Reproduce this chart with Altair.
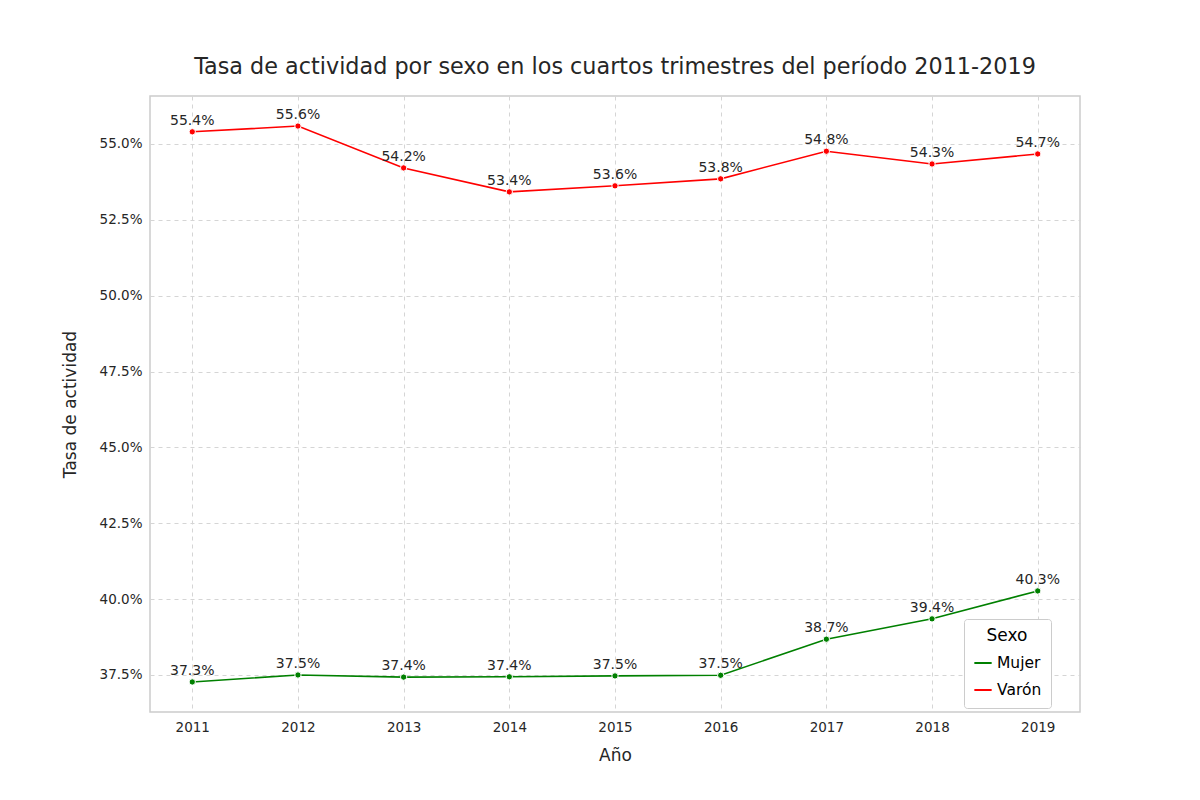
import pandas as pd
import altair as alt

years = [2011, 2012, 2013, 2014, 2015, 2016, 2017, 2018, 2019]
mujer = [37.27, 37.50, 37.43, 37.44, 37.47, 37.49, 38.68, 39.35, 40.27]
varon = [55.40, 55.59, 54.21, 53.42, 53.62, 53.85, 54.76, 54.34, 54.67]

rows = []
for y, m, v in zip(years, mujer, varon):
    rows.append({"Año": y, "Sexo": "Mujer", "tasa": m / 100})
    rows.append({"Año": y, "Sexo": "Varón", "tasa": v / 100})
df = pd.DataFrame(rows)

color = alt.Color("Sexo:N", scale=alt.Scale(domain=["Mujer", "Varón"], range=["green", "red"]),
                  legend=alt.Legend(title="Sexo", orient="none", legendX=814, legendY=523,
                                    strokeColor="#cccccc", fillColor="white", padding=9,
                                    cornerRadius=3, titleFontSize=17, labelFontSize=15.5,
                                    titleFontWeight="normal", symbolType="stroke",
                                    symbolStrokeWidth=2, symbolSize=300, rowPadding=8,
                                    titleAnchor="middle", titlePadding=8))
x = alt.X("Año:Q", title="Año", scale=alt.Scale(domain=[2010.6, 2019.4], nice=False, zero=False),
          axis=alt.Axis(values=years, format="d", titleFontSize=17, titlePadding=14,
                        titleFontWeight="normal", labelFontSize=13.5, labelPadding=8, ticks=False,
                        gridDash=[4, 4], gridColor="#d5d5d5", domain=False))
y = alt.Y("tasa:Q", title="Tasa de actividad",
          scale=alt.Scale(domain=[0.3628, 0.5658], nice=False, zero=False),
          axis=alt.Axis(values=[0.375, 0.4, 0.425, 0.45, 0.475, 0.5, 0.525, 0.55], format=".1%",
                        titleFontSize=17, titlePadding=20, titleFontWeight="normal",
                        labelFontSize=13.5, labelPadding=8, ticks=False,
                        gridDash=[4, 4], gridColor="#d5d5d5", domain=False))

base = alt.Chart(df).encode(x=x, y=y, color=color)
lines = base.mark_line(strokeWidth=1.6)
points = base.mark_circle(size=40, opacity=1, stroke="white", strokeWidth=1)
labels = base.mark_text(dy=-11, fontSize=14, color="#262626").encode(
    text=alt.Text("tasa:Q", format=".1%"), color=alt.value("#262626"))

chart = (lines + points + labels).properties(
    width=930, height=616,
    autosize=alt.AutoSizeParams(type="none"),
    padding={"left": 142, "top": 88, "right": 100, "bottom": 76},
    title=alt.Title("Tasa de actividad por sexo en los cuartos trimestres del período 2011-2019",
                    fontSize=22.3, fontWeight="normal", color="#262626", offset=18),
).configure(font="DejaVu Sans").configure_view(
    stroke="#cccccc", strokeWidth=1.5
).configure_axis(labelColor="#262626", titleColor="#262626")

chart.save("out.html", embed_options={"renderer": "svg", "actions": False})
